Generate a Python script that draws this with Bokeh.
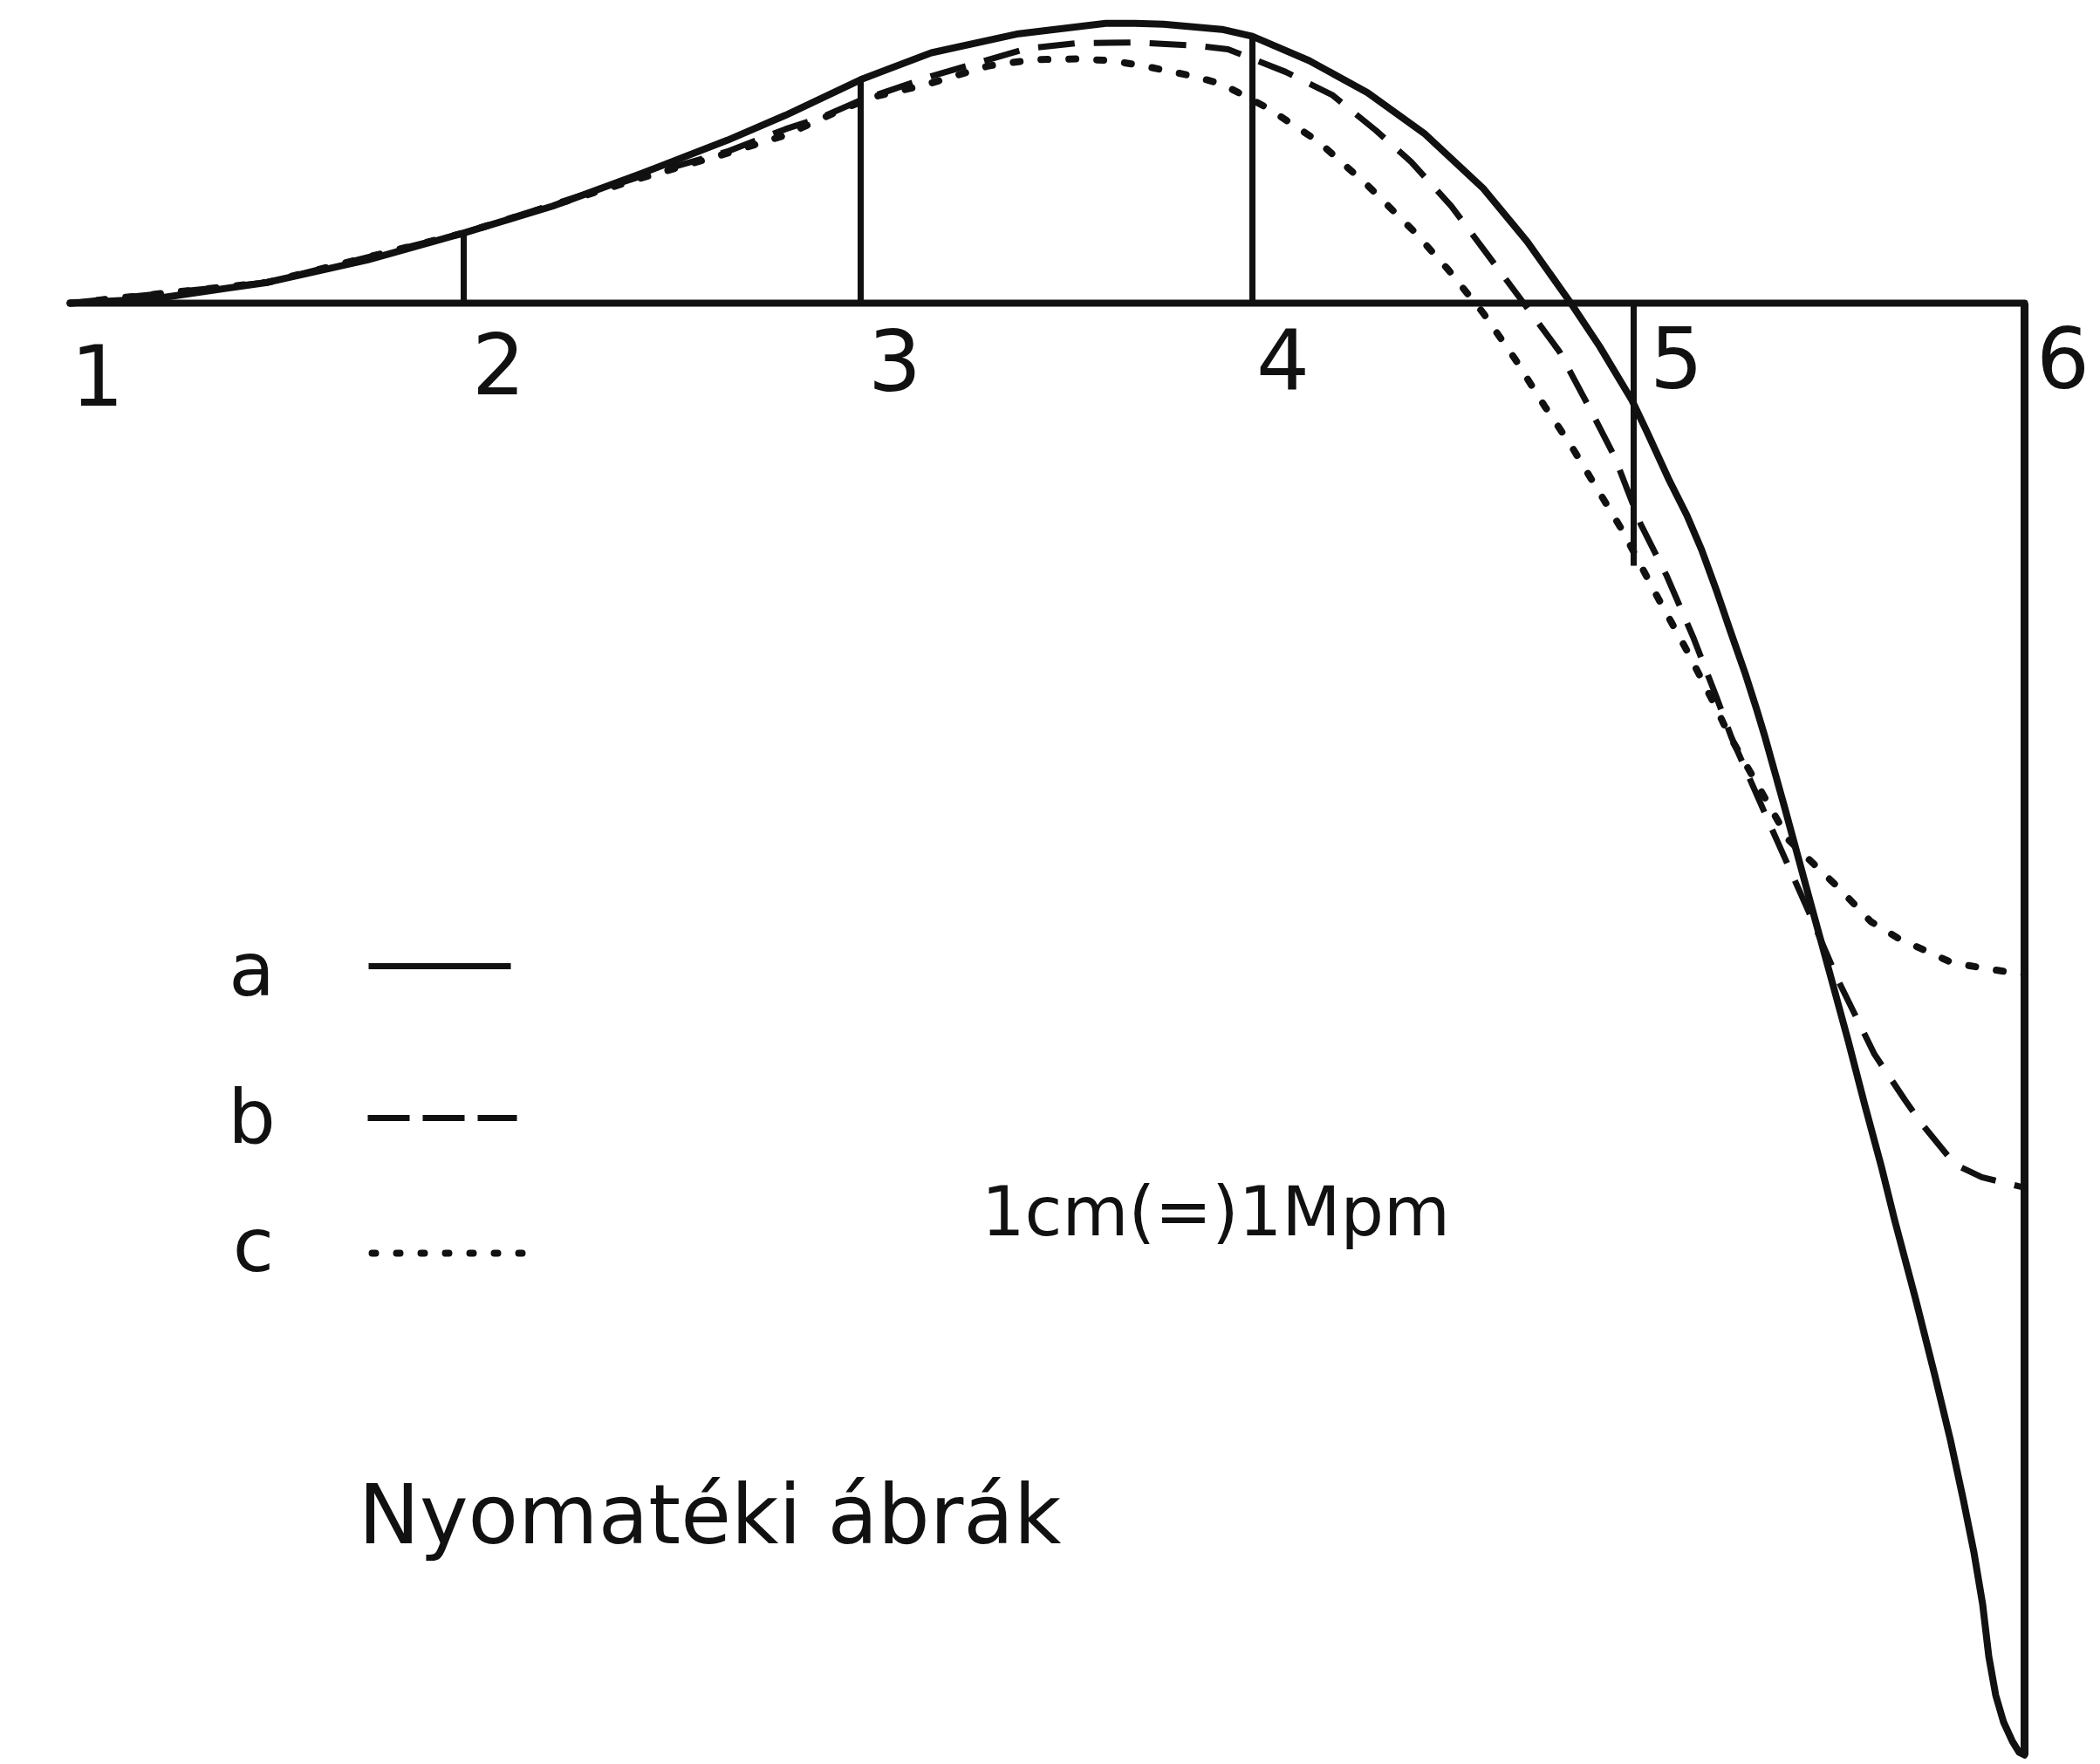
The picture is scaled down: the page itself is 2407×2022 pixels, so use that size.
from bokeh.plotting import figure
from bokeh.models import Range1d
from bokeh.core.properties import value
from bokeh.embed import file_html
from bokeh.resources import INLINE

# ---------------- data ----------------
# x: position along the beam, y: bending moment (drawing units, 1cm(=)1Mpm)
support_labels = ["1", "2", "3", "4", "5", "6"]
support_x = [0.00, 4.51, 9.06, 13.55, 17.92, 22.40]
support_end = [0.00, 0.81, 2.58, 3.08, -3.03, -16.76]   # extent of the vertical ordinate at each support

a_x = [0.00, 0.96, 2.26, 3.41, 4.51, 5.53, 6.53, 7.53, 8.20, 9.06, 9.87, 10.87, 11.37, 11.87,
       12.20, 12.53, 13.20, 13.55, 14.20, 14.87, 15.53, 16.20, 16.70, 17.20, 17.53, 17.90,
       18.07, 18.33, 18.53, 18.70, 18.87, 19.03, 19.20, 19.33, 19.42, 19.65, 19.96, 20.18,
       20.38, 20.57, 20.76, 20.91, 21.15, 21.37, 21.55, 21.70, 21.82, 21.92, 21.99, 22.07,
       22.16, 22.26, 22.34, 22.40]
a_m = [0.00, 0.05, 0.24, 0.50, 0.81, 1.12, 1.49, 1.88, 2.17, 2.58, 2.89, 3.11, 3.17, 3.23,
       3.23, 3.22, 3.16, 3.08, 2.80, 2.43, 1.95, 1.32, 0.71, 0.00, -0.50, -1.12,
       -1.48, -2.05, -2.45, -2.85, -3.32, -3.79, -4.28, -4.69, -4.99, -5.82, -6.97, -7.78,
       -8.52, -9.26, -9.97, -10.58, -11.49, -12.37, -13.12, -13.82, -14.42, -15.02, -15.62, -16.07,
       -16.38, -16.60, -16.73, -16.76]

b_x = [0.00, 2.26, 4.51, 6.53, 7.53, 8.20, 8.60, 9.03, 9.87, 10.97, 11.53, 12.20, 12.93, 13.27,
       13.93, 14.47, 14.97, 15.37, 15.83, 16.23, 16.63, 17.07, 17.43, 17.70, 18.00, 18.30,
       18.60, 18.87, 19.04, 19.46, 19.92, 20.26, 20.68, 21.03, 21.22, 21.60, 21.91, 22.40]
b_m = [0.00, 0.24, 0.81, 1.46, 1.75, 2.01, 2.14, 2.33, 2.62, 2.94, 3.00, 3.01, 2.97, 2.93,
       2.67, 2.40, 1.99, 1.63, 1.12, 0.58, 0.04, -0.56, -1.24, -1.77, -2.55, -3.15,
       -3.85, -4.55, -5.01, -5.97, -7.01, -7.81, -8.67, -9.20, -9.47, -9.94, -10.09, -10.21]

c_x = [0.00, 2.26, 4.51, 6.53, 7.53, 8.20, 8.83, 9.20, 9.80, 10.53, 11.03, 11.53, 11.93, 12.30,
       12.87, 13.20, 13.73, 14.30, 14.87, 15.40, 15.80, 16.20, 16.57, 16.90, 17.20, 17.50,
       17.80, 18.17, 18.53, 18.87, 19.00, 19.30, 19.70, 19.99, 20.26, 20.45, 20.64, 20.95,
       21.30, 21.56, 21.95, 22.40]
c_m = [0.00, 0.24, 0.81, 1.44, 1.73, 1.94, 2.23, 2.38, 2.52, 2.74, 2.81, 2.82, 2.80, 2.74,
       2.62, 2.53, 2.25, 1.87, 1.36, 0.83, 0.38, -0.12, -0.66, -1.19, -1.64, -2.14,
       -2.64, -3.35, -4.01, -4.68, -4.96, -5.49, -6.20, -6.48, -6.74, -6.94, -7.14, -7.33,
       -7.49, -7.61, -7.68, -7.75]

legend_names = ["a", "b", "c"]
scale_text = "1cm(=)1Mpm"
title_text = "Nyomatéki ábrák"

# ---------------- layout (page pixels -> drawing units) ----------------
W, H = 2407, 2022
X0_PX, SX = 80.0, 100.0
BASE_PX, SY = 347.0, 99.3


def px2x(px):
    return (px - X0_PX) / SX


def py2y(py):
    return (BASE_PX - py) / SY


p = figure(width=W, height=H, output_backend="svg", toolbar_location=None,
           x_axis_type=None, y_axis_type=None, min_border=0,
           x_range=Range1d(px2x(0), px2x(W)),
           y_range=Range1d(py2y(H), py2y(0)))
p.grid.visible = False
p.outline_line_color = None
p.background_fill_color = "white"
p.border_fill_color = "white"

INK = "#111111"
FONT = value("DejaVu Sans")

# beam axis
p.line([support_x[0], support_x[-1]], [0, 0], line_width=8, line_color=INK, line_cap="round")

# support ordinates
p.segment(x0=support_x[1:5], y0=[0] * 4, x1=support_x[1:5], y1=support_end[1:5],
          line_width=7, line_color=INK)
p.segment(x0=[support_x[5]], y0=[0], x1=[support_x[5]], y1=[support_end[5]],
          line_width=9, line_color=INK)

# moment diagrams
p.line(a_x, a_m, line_width=8, line_color=INK, line_cap="round", line_join="round")
p.line(b_x, b_m, line_width=7, line_color=INK, line_dash="42 22", line_join="round")
p.line(c_x, c_m, line_width=8, line_color=INK, line_dash="8 24", line_cap="round",
       line_join="round")

# support numbers (x centre px, text anchor px)
label_px = [111, 571, 1025, 1470, 1921, 2364]
label_py = [429, 416, 412, 411, 409, 409]
p.text(x=[px2x(v) for v in label_px], y=[py2y(v) for v in label_py],
       text=support_labels, text_font=FONT, text_font_size=value("96px"),
       text_align="center", text_baseline="alphabetic", text_color=INK)

# key
key_text_px = [(288, 1110), (288, 1279), (290, 1426)]
p.text(x=[px2x(k[0]) for k in key_text_px], y=[py2y(k[1]) for k in key_text_px],
       text=legend_names, text_font=FONT, text_font_size=value("86px"),
       text_align="center", text_baseline="alphabetic", text_color=INK)
p.line([px2x(422), px2x(585)], [py2y(1107)] * 2, line_width=7, line_color=INK)
p.line([px2x(421), px2x(592)], [py2y(1281)] * 2, line_width=7, line_color=INK,
       line_dash="48 15")
p.line([px2x(426), px2x(598)], [py2y(1436)] * 2, line_width=8, line_color=INK,
       line_dash="4 24", line_cap="round")

# scale note and caption
p.text(x=[px2x(1393)], y=[py2y(1388)], text=[scale_text], text_font=FONT,
       text_font_size=value("78px"), text_align="center", text_baseline="alphabetic",
       text_color=INK)
p.text(x=[px2x(813)], y=[py2y(1736)], text=[title_text], text_font=FONT,
       text_font_size=value("94px"), text_align="center", text_baseline="alphabetic",
       text_color=INK)

open("out.html", "w").write(file_html(p, INLINE))
